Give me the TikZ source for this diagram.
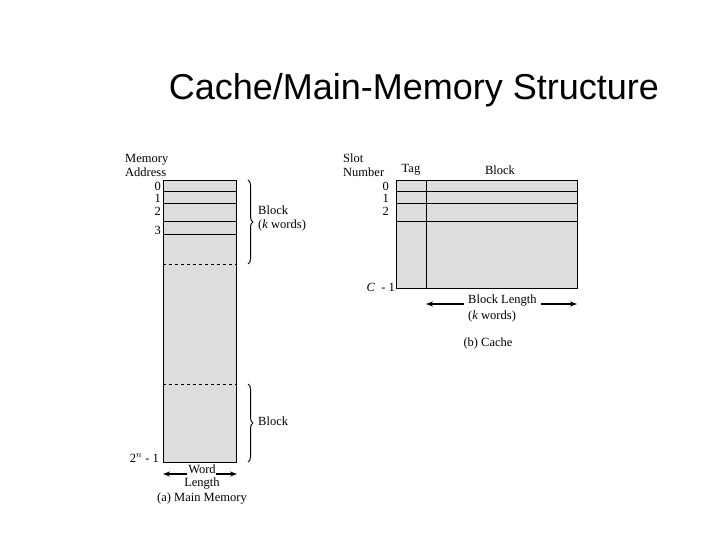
\documentclass[tikz,border=0pt]{standalone}
\usepackage{fontspec}
\setmainfont{Liberation Serif}
\newfontfamily\titlefont{Liberation Sans}
\usetikzlibrary{decorations.pathreplacing,arrows.meta}
\definecolor{cellgray}{RGB}{221,221,221}
\begin{document}
\begin{tikzpicture}[x=1pt,y=-1pt,
  lbl/.style={font=\fontsize{12.5}{14}\selectfont,inner sep=0pt},
  cell/.style={draw=black,fill=cellgray,line width=1pt},
  ln/.style={line width=1pt},
  brc/.style={decorate,decoration={brace,amplitude=5pt},line width=1pt},
  arr/.style={-{Stealth[length=7pt,width=5pt]},line width=1.2pt}]
\useasboundingbox (0,0) rectangle (720,540);
\node[font=\titlefont\fontsize{36}{40}\selectfont] (title) at (414,90) {Cache/Main-Memory Structure};
% main memory
\node[cell,minimum width=73pt,minimum height=282pt,inner sep=0pt,anchor=north west] (mm) at (163,180) {};
\foreach \y in {192,204,222,234} \draw[ln] (163,\y) -- (236,\y);
\foreach \y in {264,384} \draw[ln,dashed] (163,\y) -- (236,\y);
\node[lbl,anchor=west,align=left] (ma) at (125,165) {Memory\\Address};
\node[lbl,anchor=east] (a0) at (161,186) {0};
\node[lbl,anchor=east] (a1) at (161,198) {1};
\node[lbl,anchor=east] (a2) at (161,211) {2};
\node[lbl,anchor=east] (a3) at (161,230) {3};
\node[lbl,anchor=east] (an) at (159,458) {2$^n$ - 1};
\coordinate (b1t) at (248,180); \coordinate (b1b) at (248,264);
\draw[brc] (b1t) -- (b1b);
\node[lbl,anchor=west,align=left] (blk1) at (258,218) {Block\\(\textit{k} words)};
\coordinate (b2t) at (248,384); \coordinate (b2b) at (248,462);
\draw[brc] (b2t) -- (b2b);
\node[lbl,anchor=west] (blk2) at (258,421) {Block};
\node[lbl] (word) at (202,469) {Word};
\node[lbl] (len) at (202,484) {Length};
\coordinate (wl) at (163,474); \coordinate (wr) at (237,474);
\draw[arr] (word.west |- wl) ++(-1,0) -- (wl);
\draw[arr] (word.east |- wr) ++(0,0) -- (wr);
\node[lbl] (capa) at (202,499) {(a) Main Memory};
% cache
\node[cell,minimum width=181pt,minimum height=108pt,inner sep=0pt,anchor=north west] (cache) at (396,180) {};
\draw[ln] (426,180) -- (426,288);
\foreach \y in {192,204,222} \draw[ln] (396,\y) -- (577,\y);
\node[lbl,anchor=west,align=left] (sn) at (343,165) {Slot\\Number};
\node[lbl] (tag) at (411,170) {Tag};
\node[lbl] (blkh) at (500,170) {Block};
\node[lbl,anchor=east] (c0) at (389,186) {0};
\node[lbl,anchor=east] (c1) at (389,198) {1};
\node[lbl,anchor=east] (c2) at (389,211) {2};
\node[lbl,anchor=east] (cc) at (395,287) {\textit{C} \ - 1};
\node[lbl,anchor=west] (bl) at (468,301) {Block Length};
\node[lbl,anchor=west] (kw) at (468,316) {(\textit{k} words)};
\coordinate (bll) at (426,304); \coordinate (blr) at (577,304);
\draw[arr] (bl.west |- bll) ++(-4,0) -- (bll);
\draw[arr] (bl.east |- blr) ++(4,0) -- (blr);
\node[lbl] (capb) at (488,343) {(b) Cache};
\end{tikzpicture}
\end{document}
